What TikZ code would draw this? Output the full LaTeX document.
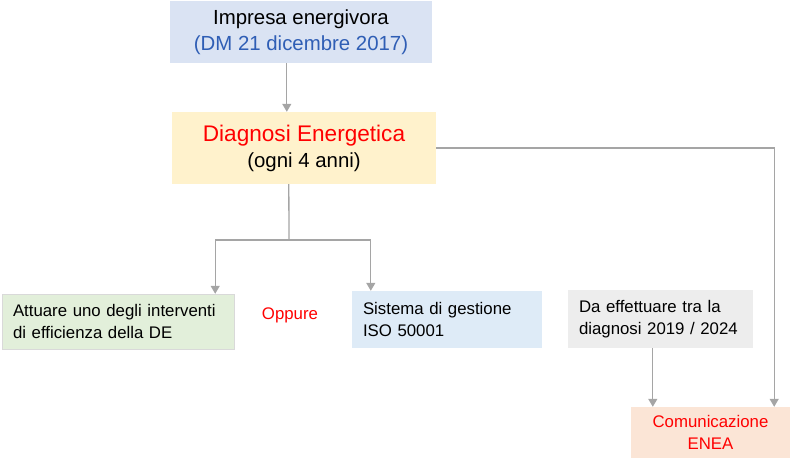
\documentclass[tikz,border=0pt]{standalone}
\usepackage{fontspec}
\setmainfont{Liberation Sans}
\usetikzlibrary{arrows.meta, positioning}
\definecolor{topblue}{HTML}{DAE3F3}
\definecolor{deepblue}{HTML}{2F5EB5}
\definecolor{diagyellow}{HTML}{FFF2CC}
\definecolor{actgreen}{HTML}{E2EFDA}
\definecolor{isoblue}{HTML}{DEEBF7}
\definecolor{dagray}{HTML}{EDEDED}
\definecolor{comorange}{HTML}{FBE5D6}
\definecolor{linkgray}{HTML}{A5A5A5}

\begin{document}
\begin{tikzpicture}[
    x=1pt, y=-1pt,
    bigbox/.style = {inner sep=0pt, align=center, font=\fontsize{20.4}{26}\selectfont},
    smallbox/.style = {inner xsep=11pt, inner ysep=0pt, align=left, font=\fontsize{16.8}{22}\selectfont},
    link/.style = {draw=linkgray, line width=1.3pt, -{Triangle[width=9pt, length=8pt]}},
    wire/.style = {draw=linkgray, line width=1.3pt}
]
\useasboundingbox (0,0) rectangle (791,460);

% Impresa
\node (top) [bigbox, fill=topblue, minimum width=262pt, minimum height=62pt] at (301, 32)
    {Impresa energivora\\ \textcolor{deepblue}{(DM 21 dicembre 2017)}};

% Diagnosi
\node (diag) [bigbox, fill=diagyellow, minimum width=264pt, minimum height=72pt] at (304, 148)
    {{\fontsize{22.6}{29}\selectfont\textcolor{red}{Diagnosi Energetica}}\\ (ogni 4 anni)};

% Alternatives
\node (act) [smallbox, fill=actgreen, draw=black!15, text width=210pt, minimum height=55pt] at (118, 321.5)
    {Attuare uno degli interventi\\ di efficienza della DE};
\node (oppure) [font=\fontsize{16.8}{22}\selectfont, text=red] at (290, 315) {Oppure};
\node (iso) [smallbox, fill=isoblue, text width=168pt, minimum height=57pt] at (447, 319.5)
    {Sistema di gestione\\ ISO 50001};
\node (da) [smallbox, fill=dagray, text width=163pt, minimum height=58pt] at (660.5, 319)
    {Da effettuare tra la\\ diagnosi 2019 / 2024};

% ENEA
\node (com) [bigbox, font=\fontsize{16.8}{22}\selectfont, text=red, fill=comorange, minimum width=159pt, minimum height=51pt] at (710.5, 432.5)
    {Comunicazione\\ ENEA};

% Connections
\coordinate (split) at (289, 240);
\draw [link] ([xshift=117pt]top.south west) -- ([xshift=115pt]diag.north west);
\draw [wire] ([xshift=117pt]diag.south west) -- (split);
\draw [link] (split) -| ([xshift=-19pt]act.north east);
\draw [link] (split) -| ([xshift=19pt]iso.north west);
\draw [link] ([xshift=85pt]da.south west) -- ([xshift=22pt]com.north west);
\draw [link] (diag.east) -| ([xshift=-16pt]com.north east);

\end{tikzpicture}
\end{document}
